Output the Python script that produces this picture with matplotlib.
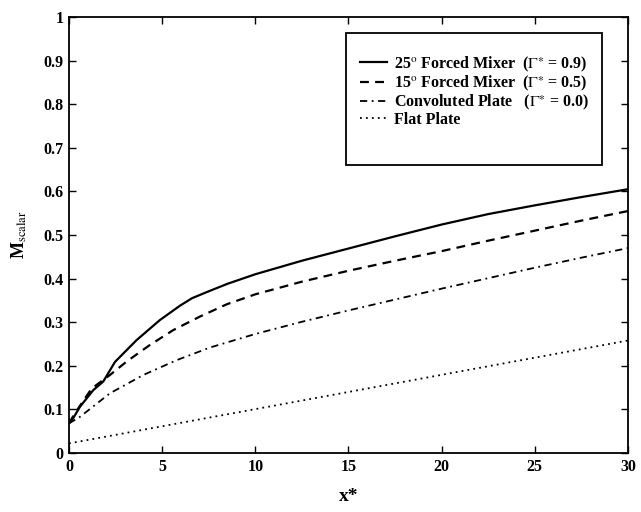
import numpy as np
import matplotlib.pyplot as plt
from matplotlib.patches import Rectangle

plt.rcParams['font.family'] = ['Liberation Serif', 'DejaVu Serif']
plt.rcParams['mathtext.fontset'] = 'stix'

# curves
x_25 = [0, 0.2, 0.59, 1.3, 1.84, 2.47, 3.63, 4.88, 5.96, 6.6, 7.39, 8.5, 10, 12.5, 15, 17.5, 20, 22.5, 25, 27.5, 30]
m_25 = [0.068, 0.078, 0.106, 0.144, 0.164, 0.209, 0.259, 0.305, 0.338, 0.355, 0.369, 0.388, 0.41, 0.441, 0.469, 0.497, 0.524, 0.548, 0.568, 0.587, 0.605]

x_15 = [0, 0.3, 1.22, 2.2, 3.1, 4.35, 5.6, 7.03, 8.46, 10, 12.5, 15, 17.5, 20, 22.5, 25, 27.5, 30]
m_15 = [0.068, 0.09, 0.148, 0.179, 0.21, 0.248, 0.282, 0.313, 0.341, 0.364, 0.393, 0.418, 0.441, 0.463, 0.487, 0.51, 0.533, 0.555]

x_cp = [0, 0.59, 2.2, 3.99, 5.78, 7.57, 10, 12.5, 15, 17.5, 20, 22.5, 25, 27.5, 30]
m_cp = [0.068, 0.083, 0.137, 0.179, 0.213, 0.242, 0.273, 0.301, 0.327, 0.352, 0.377, 0.401, 0.425, 0.448, 0.47]

x_fp = [0, 30]
m_fp = [0.022, 0.258]

labels = [r'25$^{\mathrm{o}}$ Forced Mixer  ($\Gamma^{\ast}$ = 0.9)',
          r'15$^{\mathrm{o}}$ Forced Mixer  ($\Gamma^{\ast}$ = 0.5)',
          r'Convoluted Plate   ($\Gamma^{\ast}$ = 0.0)',
          'Flat Plate']

fig = plt.figure(figsize=(6.41, 5.12), dpi=100)
ax = fig.add_axes([0.1076, 0.1152, 0.8721, 0.8516])

ax.plot(x_25, m_25, color='black', lw=1.6, ls='-', label=labels[0])
ax.plot(x_15, m_15, color='black', lw=1.6, ls=(0, (4, 2.8)), label=labels[1])
ax.plot(x_cp, m_cp, color='black', lw=1.3, ls=(0, (4, 2.5, 1, 2.5)), label=labels[2])
ax.plot(x_fp, m_fp, color='black', lw=1.3, ls=(0, (1, 2.3)), label=labels[3])

ax.set_xlim(0, 30)
ax.set_ylim(0, 1)
ax.set_xticks(np.arange(0, 31, 5))
ax.set_yticks(np.arange(0, 1.01, 0.1))
ax.set_yticklabels(['0', '0.1', '0.2', '0.3', '0.4', '0.5', '0.6', '0.7', '0.8', '0.9', '1'])
ax.tick_params(direction='in', top=True, right=True, length=5, width=1, labelsize=11.5, pad=4)
for lab in ax.get_xticklabels() + ax.get_yticklabels():
    lab.set_fontweight('bold')
for sp in ax.spines.values():
    sp.set_linewidth(1.3)

ax.set_xlabel('x*', fontsize=14, fontweight='bold', labelpad=10)
ax.set_ylabel(r'M$_{\mathrm{scalar}}$', fontsize=13, fontweight='bold', labelpad=10)

ax.add_patch(Rectangle((14.85, 0.661), 13.75, 0.302, transform=ax.transData,
                       fill=False, ec='black', lw=1.3, zorder=5))
leg = ax.legend(loc='upper left', bbox_to_anchor=(0.51, 0.929), frameon=False,
                prop={'size': 11.5, 'weight': 'bold'}, handlelength=1.65,
                handletextpad=0.45, labelspacing=0.0, borderaxespad=0)

fig.savefig('out.png', dpi=100)
